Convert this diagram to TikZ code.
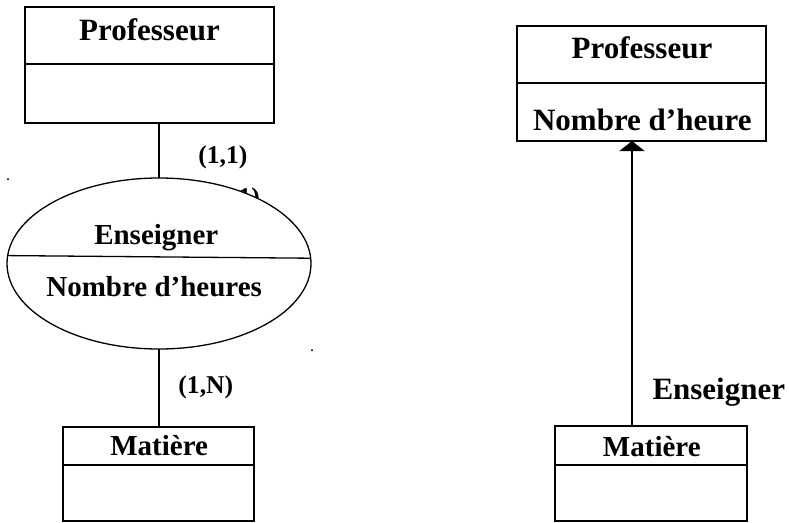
\documentclass[tikz,border=0pt]{standalone}
\usepackage{fontspec}
\setmainfont{Liberation Serif}
\usetikzlibrary{arrows.meta,shapes.geometric}

\tikzset{
  entity/.style={draw, rectangle, line width=1.6pt, inner sep=0pt, outer sep=0pt},
  assoc/.style={draw, ellipse, line width=1.3pt, fill=white, inner sep=0pt, outer sep=0pt,
                minimum width=304pt, minimum height=171pt},
  link/.style={line width=1.6pt},
  lbl/.style={inner sep=0pt, anchor=base, font=\bfseries\fontsize{29}{34}\selectfont},
  biglbl/.style={inner sep=0pt, anchor=base, font=\bfseries\fontsize{31}{37}\selectfont},
  card/.style={inner sep=0pt, anchor=base, font=\bfseries\fontsize{25.6}{30}\selectfont},
  speck/.style={inner sep=0pt, anchor=base, font=\bfseries\fontsize{12}{14}\selectfont},
}

\begin{document}
\begin{tikzpicture}[x=1pt,y=-1pt]
\useasboundingbox (0,0) rectangle (789,522);

% ---------- Merise style (left) ----------
\node[entity, minimum width=249pt, minimum height=116pt] (profL) at (149.5,65) {};
\draw[link] (profL.west |- 0,64) -- (profL.east |- 0,64);
\node[biglbl] (profLt) at (149.5,40) {Professeur};

% cardinality partly covered by the association
\node[card, anchor=base east] (cardHidden) at (260,205) {(1,1)};

\node[assoc] (ens) at (159,263.5) {};
\draw[line width=1.3pt] (ens.177.16) -- (ens.2.84);
\node[lbl] (enst) at (156.3,244) {Enseigner};
\node[lbl] (ensa) at (154.2,296.7) {Nombre d’heures};

\draw[link] (ens.north) -- (ens.north |- profL.south);
\node[card] (c11) at (222.8,163.5) {(1,1)};

\node[entity, minimum width=191pt, minimum height=94pt] (matL) at (158.5,474) {};
\draw[link] (matL.west |- 0,465) -- (matL.east |- 0,465);
\node[lbl] (matLt) at (159.2,455) {Matière};

\draw[link] (ens.south) -- (ens.south |- matL.north);
\node[card] (c1n) at (205.8,393.6) {(1,N)};

\node[speck] (dotA) at (8,180) {.};
\node[speck] (dotB) at (312,351) {.};

% ---------- UML style (right) ----------
\node[entity, minimum width=249pt, minimum height=115pt] (profR) at (641.5,83.5) {};
\draw[link] (profR.west |- 0,83) -- (profR.east |- 0,83);
\node[biglbl] (profRt) at (642,58.3) {Professeur};
\node[biglbl] (profRa) at (642.3,130) {Nombre d’heure};

\node[entity, minimum width=192pt, minimum height=95pt] (matR) at (651,473.5) {};
\draw[link] (matR.west |- 0,465) -- (matR.east |- 0,465);
\node[lbl] (matRt) at (651.8,456) {Matière};

\draw[link, -{Triangle[width=25pt,length=10pt]}]
  ([xshift=-19pt]matR.north) -- ([xshift=-19pt]matR.north |- profR.south);
\node[biglbl] (ensR) at (718.8,399) {Enseigner};
\end{tikzpicture}
\end{document}
